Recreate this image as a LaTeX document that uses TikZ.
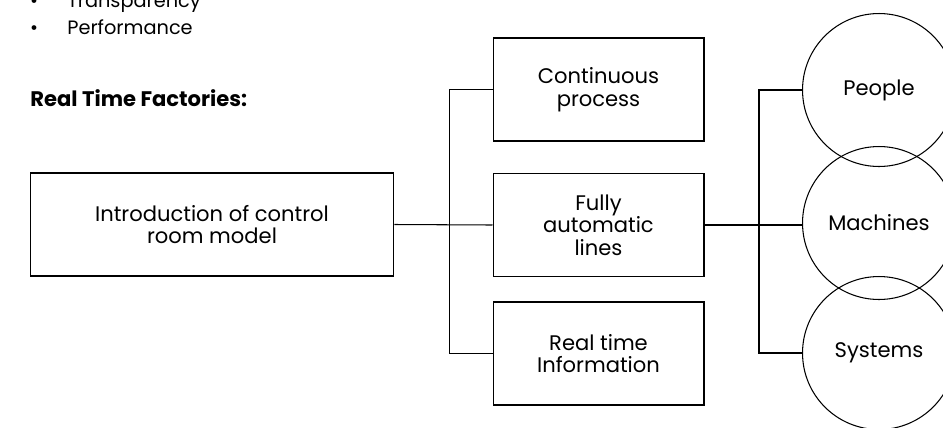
\documentclass[tikz,border=0pt]{standalone}
\usepackage{fontspec}
\setmainfont{Poppins}
\usetikzlibrary{positioning}

\begin{document}
\begin{tikzpicture}[
    x=0.02cm, y=-0.02cm,
    every node/.style={font=\fontsize{12}{12.8}\selectfont, align=center},
    list/.style={font=\fontsize{11}{13}\selectfont, anchor=base west, inner sep=0pt},
    box/.style={draw, line width=0.6pt, minimum width=4.22cm, minimum height=2.06cm, inner sep=2pt},
    ring/.style={draw, line width=0.6pt, circle, minimum size=3.06cm, inner sep=0pt},
    link/.style={line width=0.6pt}
]
\useasboundingbox (0,0) rectangle (943,427);
\clip (0,0) rectangle (943,427);

% bullet list and heading
\foreach \y/\txt [count=\i] in {7/Transparency, 34/Performance} {
    \node[list, anchor=base] (dot\i) at (34,\y) {\textbullet};
    \node[list] (item\i) at (67,\y) {\txt};
}
\node[anchor=base west, inner sep=0pt] (head) at (30,106) {\textbf{Real Time Factories:}};

% main box
\node[box, minimum width=7.28cm] (model) at (212,224.5) {Introduction of control\\room model};

% middle column
\node[box] (proc) at (598.5,89.5) {Continuous\\process};
\node[box] (lines) at (598.5,225) {Fully\\automatic\\lines};
\node[box] (info) at (598.5,353.5) {Real time\\Information};

% right column
\node[ring] (people) at (879,90) {People};
\node[ring] (machines) at (879,223) {Machines};
\node[ring] (systems) at (879,353) {Systems};

% connectors
\draw[link] (model.east) -- (lines.west);
\draw[link] (proc.west) -- ++(-43,0) |- (info.west);
\draw[link] (lines.east) -- (lines.east -| machines.west);
\draw[link] (people.west) -- ++(-43,0) |- (systems.west);
\end{tikzpicture}
\end{document}
